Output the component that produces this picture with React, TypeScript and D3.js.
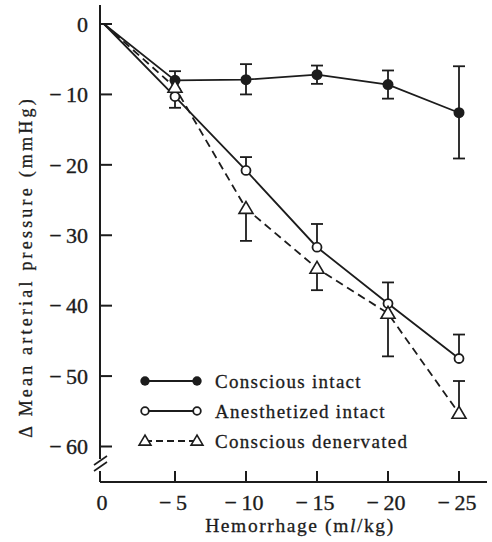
import React from "react";
import * as d3 from "d3";

// hemorrhage volume (ml/kg) and change in mean arterial pressure (mmHg)
const hemorrhage = [0, -5, -10, -15, -20, -25];
const xTicks = [-5, -10, -15, -20, -25];
const yTicks = [0, -10, -20, -30, -40, -50, -60];

const consciousIntact = [0, -8.0, -7.9, -7.2, -8.6, -12.6];
const consciousIntactUp = [0, 1.3, 2.2, 1.3, 2.0, 6.6];
const consciousIntactDown = [0, 1.3, 2.1, 1.3, 2.0, 6.5];

const anesthetizedIntact = [0, -10.3, -20.8, -31.7, -39.7, -47.5];
const anesthetizedUp = [0, 0, 1.9, 3.3, 3.0, 3.4];
const anesthetizedDown = [0, 1.6, 0, 0, 0, 0];

const consciousDenervated = [0, -9.0, -26.2, -34.7, -41.1, -55.3];
const denervatedUp = [0, 0, 0, 0, 0, 4.6];
const denervatedDown = [0, 0, 4.6, 3.1, 6.1, 0];

const legendLabels = ["Conscious intact", "Anesthetized intact", "Conscious denervated"];

const ink = "#1c1c1c";
const font = "'Liberation Serif', 'DejaVu Serif', serif";
const fmt = (v: number) => (v === 0 ? "0" : `\u2212\u2009${Math.abs(v)}`);

const x = d3.scaleLinear().domain([0, -25]).range([104, 459]);
const y = d3.scaleLinear().domain([0, -60]).range([24, 446.5]);

type Series = {
  values: number[];
  up: number[];
  down: number[];
  marker: "filled" | "open" | "triangle";
  dashed: boolean;
};

const series: Series[] = [
  { values: consciousIntact, up: consciousIntactUp, down: consciousIntactDown, marker: "filled", dashed: false },
  { values: anesthetizedIntact, up: anesthetizedUp, down: anesthetizedDown, marker: "open", dashed: false },
  { values: consciousDenervated, up: denervatedUp, down: denervatedDown, marker: "triangle", dashed: true },
];

const Marker = ({ kind, cx, cy, size = 1 }: { kind: string; cx: number; cy: number; size?: number }) => {
  if (kind === "filled") return <circle cx={cx} cy={cy} r={5.5 * size} fill={ink} />;
  if (kind === "open") return <circle cx={cx} cy={cy} r={4.5 * size} fill="#fff" stroke={ink} strokeWidth={1.8} />;
  const s = 7 * size;
  const pts = [
    [cx, cy - s],
    [cx - s, cy + s * 0.7],
    [cx + s, cy + s * 0.7],
  ];
  return <polygon points={pts.map((p) => p.join(",")).join(" ")} fill="#fff" stroke={ink} strokeWidth={1.6} />;
};

export default function App() {
  const line = d3
    .line<number>()
    .x((_, i) => x(hemorrhage[i]))
    .y((d) => y(d));
  const cap = 6;
  const axisBottom = 482;
  const legendY = [381, 411, 441];

  return (
    <svg width={492} height={542} style={{ position: "absolute", left: 0, top: 0, background: "#fff" }} fontFamily={font}>
      <rect width={492} height={542} fill="#fff" />

      {/* axes */}
      <g stroke={ink} strokeWidth={2} fill="none">
        <line x1={100} y1={5} x2={100} y2={459} />
        <line x1={100} y1={471} x2={100} y2={axisBottom} />
        <line x1={94} y1={465} x2={107} y2={456} strokeWidth={1.6} />
        <line x1={94} y1={471} x2={107} y2={462} strokeWidth={1.6} />
        <line x1={100} y1={axisBottom} x2={487} y2={axisBottom} />
        {yTicks.map((t) => (
          <line key={t} x1={100} x2={112} y1={y(t)} y2={y(t)} />
        ))}
        {xTicks.map((t) => (
          <line key={t} x1={x(t)} x2={x(t)} y1={axisBottom} y2={axisBottom - 11} />
        ))}
      </g>
      <g fill={ink} fontSize={22} stroke={ink} strokeWidth={0.35}>
        {yTicks.map((t) => (
          <text key={t} x={88} y={y(t)} dy="0.35em" textAnchor="end">
            {fmt(t)}
          </text>
        ))}
        <text x={102} y={502} dy="0.35em" textAnchor="middle">
          0
        </text>
        {xTicks.map((t) => (
          <text key={t} x={x(t) - 2} y={502} dy="0.35em" textAnchor="middle">
            {fmt(t)}
          </text>
        ))}
      </g>

      {/* axis titles */}
      <g fill={ink} stroke={ink} strokeWidth={0.3}>
        <text
          transform="translate(26,267) rotate(-90)"
          textAnchor="middle"
          dy="0.35em"
          fontSize={18}
          letterSpacing={3.2}
        >
          {"\u0394 Mean arterial pressure (mmHg)"}
        </text>
        <text x={300} y={525} dy="0.35em" textAnchor="middle" fontSize={19.5} letterSpacing={1.6}>
          Hemorrhage (m<tspan fontStyle="italic">l</tspan>/kg)
        </text>
      </g>

      {/* series lines */}
      {series.map((s, k) => (
        <path
          key={k}
          d={line(s.values) || ""}
          fill="none"
          stroke={ink}
          strokeWidth={1.8}
          strokeDasharray={s.dashed ? "8,5" : undefined}
        />
      ))}

      {/* error bars */}
      <g stroke={ink} strokeWidth={1.8}>
        {series.map((s, k) =>
          s.values.map((v, i) => {
            const cx = x(hemorrhage[i]);
            const out = [];
            if (s.up[i] > 0) {
              const yt = y(v + s.up[i]);
              out.push(<line key={`u${k}${i}`} x1={cx} x2={cx} y1={y(v)} y2={yt} />);
              out.push(<line key={`uc${k}${i}`} x1={cx - cap} x2={cx + cap} y1={yt} y2={yt} />);
            }
            if (s.down[i] > 0) {
              const yb = y(v - s.down[i]);
              out.push(<line key={`d${k}${i}`} x1={cx} x2={cx} y1={y(v)} y2={yb} />);
              out.push(<line key={`dc${k}${i}`} x1={cx - cap} x2={cx + cap} y1={yb} y2={yb} />);
            }
            return out;
          })
        )}
      </g>

      {/* markers */}
      {series.map((s, k) =>
        s.values.map((v, i) =>
          i === 0 ? null : <Marker key={`${k}-${i}`} kind={s.marker} cx={x(hemorrhage[i])} cy={y(v)} />
        )
      )}

      {/* legend */}
      {series.map((s, k) => (
        <g key={k}>
          <line
            x1={145}
            x2={197}
            y1={legendY[k]}
            y2={legendY[k]}
            stroke={ink}
            strokeWidth={1.8}
            strokeDasharray={s.dashed ? "7,4" : undefined}
          />
          <Marker kind={s.marker} cx={145} cy={legendY[k]} size={0.85} />
          <Marker kind={s.marker} cx={197} cy={legendY[k]} size={0.85} />
          <text
            x={215}
            y={legendY[k]}
            dy="0.35em"
            fontSize={19}
            letterSpacing={1.3}
            fill={ink}
            stroke={ink}
            strokeWidth={0.3}
          >
            {legendLabels[k]}
          </text>
        </g>
      ))}
    </svg>
  );
}
